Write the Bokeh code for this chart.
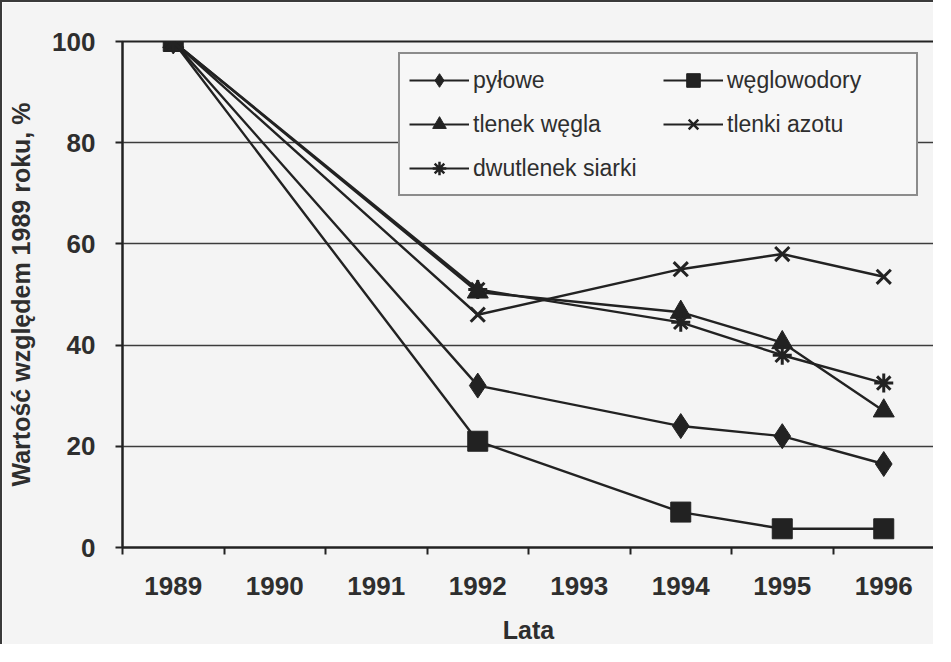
from bokeh.plotting import figure
from bokeh.models import Range1d, FixedTicker, Legend, LegendItem
from bokeh.embed import file_html
from bokeh.resources import INLINE

# ---- data ----
categories = ["1989", "1990", "1991", "1992", "1993", "1994", "1995", "1996"]
data_years = ["1989", "1992", "1994", "1995", "1996"]
pylowe = [100, 32, 24, 22, 16.5]
weglowodory = [100, 21, 7, 3.7, 3.7]
tlenek_wegla = [100, 50.5, 46.5, 40.5, 27]
tlenki_azotu = [100, 46, 55, 58, 53.5]
dwutlenek_siarki = [100, 51, 44.5, 38, 32.5]
y_ticks = [0, 20, 40, 60, 80, 100]

series = [
    ("pyłowe", pylowe, "diamond", 25, 17),
    ("węglowodory", weglowodory, "square", 20, 14),
    ("tlenek węgla", tlenek_wegla, "triangle", 21, 15),
    ("tlenki azotu", tlenki_azotu, "x", 20, 14),
    ("dwutlenek siarki", dwutlenek_siarki, "asterisk", 19, 14),
]
# legend is laid out column by column: left column first, then right column
legend_order = ["pyłowe", "tlenek węgla", "dwutlenek siarki", "węglowodory", "tlenki azotu"]

xs = [categories.index(y) for y in data_years]
NAN = float("nan")

INK = "#222222"
BG = "#f4f4f4"
FONT = "Liberation Sans"

p = figure(width=933, height=644, output_backend="svg", toolbar_location=None,
           x_range=Range1d(-0.5, len(categories) - 0.5), y_range=Range1d(0, 100),
           min_border_left=120, min_border_right=1, min_border_top=39,
           min_border_bottom=94)
p.styles = {"border-left": "2px solid #3a3a3a", "border-top": "2px solid #3a3a3a"}
p.background_fill_color = BG
p.border_fill_color = BG
p.outline_line_color = INK
p.outline_line_width = 2

# axes
p.xaxis.ticker = FixedTicker(ticks=list(range(len(categories))),
                             minor_ticks=[i - 0.5 for i in range(len(categories) + 1)])
p.xaxis.major_label_overrides = {i: c for i, c in enumerate(categories)}
p.xaxis.major_tick_out = 0
p.xaxis.major_tick_in = 0
p.xaxis.minor_tick_out = 7
p.xaxis.minor_tick_in = 0
p.xaxis.minor_tick_line_color = INK
p.xaxis.minor_tick_line_width = 2
p.xaxis.major_label_standoff = 22
p.xaxis.axis_label = "Lata"
p.xaxis.axis_label_standoff = 18

p.yaxis.ticker = FixedTicker(ticks=y_ticks)
p.yaxis.minor_tick_line_color = None
p.yaxis.major_tick_out = 7
p.yaxis.major_tick_in = 0
p.yaxis.major_label_standoff = 20
p.yaxis.axis_label = "Wartość względem 1989 roku, %"
p.yaxis.axis_label_standoff = 14

for ax in (p.xaxis, p.yaxis):
    ax.axis_line_color = INK
    ax.axis_line_width = 2
    ax.major_tick_line_color = INK
    ax.major_tick_line_width = 2
    ax.major_label_text_font = FONT
    ax.major_label_text_font_size = "26px"
    ax.major_label_text_font_style = "bold"
    ax.major_label_text_color = "#2e2e2e"
    ax.axis_label_text_font = FONT
    ax.axis_label_text_font_size = "25px"
    ax.axis_label_text_font_style = "bold"
    ax.axis_label_text_color = "#2e2e2e"

p.xgrid.grid_line_color = None
p.ygrid.ticker = FixedTicker(ticks=y_ticks)
p.ygrid.grid_line_color = "#3c3c3c"
p.ygrid.grid_line_width = 1.5

items = {}
for name, vals, marker, size, lsize in series:
    heavy = marker in ("x", "asterisk")
    p.line(xs, vals, line_color=INK, line_width=2.4)
    p.scatter(xs, vals, marker=marker, size=size, fill_color=INK,
              line_color=INK, line_width=3 if heavy else 1)
    # legend-only proxies with smaller markers (an undrawable NaN point)
    pl = p.line([NAN], [NAN], line_color=INK, line_width=2.2)
    ps = p.scatter([NAN], [NAN], marker=marker, size=lsize, fill_color=INK,
                   line_color=INK, line_width=2.5 if heavy else 1)
    items[name] = LegendItem(label=name, renderers=[pl, ps])

legend = Legend(items=[items[n] for n in legend_order], ncols=2, location=(276, 351),
                glyph_width=60, glyph_height=34, label_height=34, label_width=180,
                label_standoff=4, spacing=10, padding=9,
                label_text_font=FONT, label_text_font_size="23px",
                label_text_color="#2e2e2e",
                border_line_color=INK, border_line_width=2,
                background_fill_color="#f7f7f7", background_fill_alpha=1.0)
p.add_layout(legend)

open("out.html", "w").write(file_html(p, INLINE))
